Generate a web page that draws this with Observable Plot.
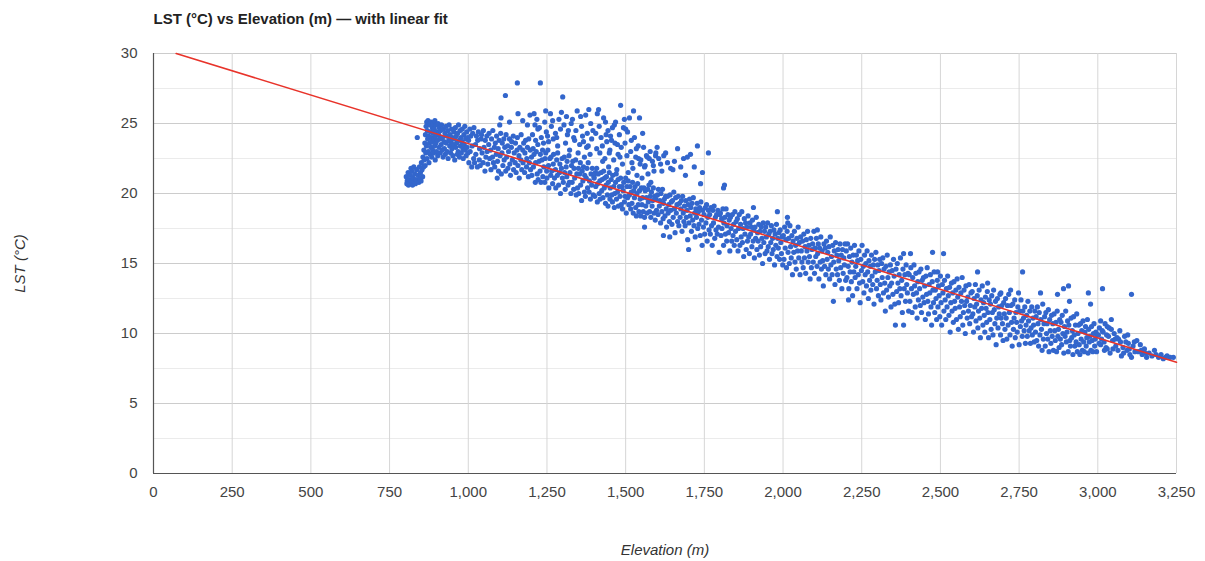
<!DOCTYPE html>
<html>
<head>
<meta charset="utf-8">
<script src="https://cdn.jsdelivr.net/npm/d3@7"></script>
<script src="https://cdn.jsdelivr.net/npm/@observablehq/plot@0.6"></script>
<style>
  html, body { margin: 0; padding: 0; background: #fff; }
  #chart { width: 1205px; height: 561px; }
</style>
</head>
<body>
<div id="chart"></div>
<script>
// ---- Text ----
const titleText = "LST (°C) vs Elevation (m) — with linear fit";
const xLabel = "Elevation (m)";
const yLabel = "LST (°C)";

// ---- Ticks ----
const xTicks = [0, 250, 500, 750, 1000, 1250, 1500, 1750, 2000, 2250, 2500, 2750, 3000, 3250];
const yTicks = [0, 5, 10, 15, 20, 25, 30];
const yMinorTicks = [2.5, 7.5, 12.5, 17.5, 22.5, 27.5];

// ---- Linear fit (endpoints) ----
const fitElev = [72, 3250];
const fitLst = [30, 7.95];

// ---- Scatter points [elevation m, LST °C], grouped by elevation band ----
const band800 = [[803,21.2],[805,20.7],[806,20.9],[809,21.5],[810,20.6],[811,21.0],[814,20.7],[816,21.3],[818,21.8],[819,20.9],[821,21.6],[823,20.6],[825,21.1],[827,21.9],[828,20.8],[830,21.4],[832,20.7],[834,21.0],[836,21.7],[838,24.0],[839,20.9],[841,21.3],[843,20.8],[845,21.9],[846,21.1],[848,21.5],[850,20.9],[851,22.2],[853,21.7],[855,21.2],[856,22.6],[858,21.9],[859,23.1],[860,22.4],[862,23.6],[863,22.0],[864,24.2],[865,22.9],[866,24.8],[867,23.4],[868,25.1],[869,22.5],[870,24.5],[871,23.9],[872,25.2],[873,23.0],[874,24.1],[875,22.2],[876,24.9],[877,23.6],[878,25.0],[879,22.8],[880,24.4],[881,23.3]];
const band900 = [[882,25.1],[883,24.0],[884,22.6],[885,23.7],[886,24.7],[887,23.1],[888,25.0],[889,24.3],[890,22.9],[891,23.9],[892,24.6],[893,23.4],[894,25.2],[895,22.4],[896,24.1],[897,23.6],[898,24.9],[899,23.0],[900,24.4],[902,23.8],[903,22.7],[904,25.0],[906,24.2],[907,23.3],[908,24.7],[910,23.9],[911,22.9],[912,24.5],[914,23.5],[915,24.9],[917,23.1],[918,24.0],[920,22.6],[921,24.6],[923,23.7],[924,23.2],[926,24.3],[927,22.8],[929,24.8],[930,23.6],[932,24.1],[933,23.0],[935,24.5],[936,22.5],[938,23.8],[939,24.9],[941,23.4],[942,24.2],[944,22.9],[945,23.7],[947,24.6],[948,23.2],[950,24.0],[951,22.7],[953,23.5],[954,24.4],[956,23.9],[957,22.4],[959,24.7],[960,23.3],[962,24.1],[963,23.6],[965,22.8],[966,24.3],[968,23.0],[969,24.9],[971,23.8],[972,22.6],[974,24.5],[975,23.4],[977,24.0],[978,22.9],[980,23.7],[981,24.6],[983,23.2],[984,22.5],[986,24.2],[987,23.5],[989,24.8],[990,23.1],[992,23.9],[993,22.7],[995,24.4],[996,23.3],[998,24.0],[999,22.9]];
const band1000 = [[1001,23.8],[1002,22.2],[1005,24.6],[1006,23.0],[1008,24.1],[1011,21.9],[1012,23.4],[1014,24.3],[1017,22.5],[1018,24.7],[1020,22.2],[1023,23.5],[1024,22.8],[1026,24.1],[1029,21.9],[1030,23.8],[1032,24.4],[1035,22.4],[1036,23.2],[1038,22.0],[1041,23.9],[1042,24.2],[1044,22.9],[1047,22.2],[1048,24.5],[1050,23.3],[1053,21.6],[1054,23.8],[1056,22.6],[1059,24.1],[1060,23.0],[1062,22.1],[1065,23.5],[1066,24.3],[1068,22.5],[1071,23.1],[1072,21.7],[1074,23.9],[1077,22.6],[1078,24.5],[1080,22.2],[1083,23.3],[1084,21.9],[1086,23.6],[1089,22.8],[1090,24.1],[1092,21.1],[1093,22.3],[1095,23.2],[1096,21.6],[1098,23.8],[1100,24.9],[1101,22.7],[1103,24.3],[1105,21.4],[1107,22.9],[1108,23.6],[1110,22.0],[1113,23.9],[1114,22.4],[1116,23.3],[1119,21.6],[1120,24.2],[1122,22.6],[1125,23.4],[1126,21.8],[1128,23.0],[1131,23.9],[1132,22.1],[1134,21.3],[1137,23.3],[1138,23.7],[1140,22.4],[1143,24.1],[1144,21.7],[1146,22.9],[1149,22.2],[1150,23.6],[1152,21.5],[1155,23.1],[1156,24.0],[1158,22.0],[1161,22.7],[1162,21.1],[1164,23.3],[1167,22.4],[1168,24.2],[1170,21.7],[1173,23.1],[1174,22.2],[1176,23.6],[1179,21.5],[1180,22.9],[1182,23.8],[1185,21.9],[1186,22.5],[1188,23.3],[1191,21.2],[1192,23.9],[1194,22.2],[1197,23.1],[1198,21.7],
  [1104,25.4],[1118,27.0],[1131,25.1],[1156,27.9],[1158,25.7],[1173,25.2],[1188,24.9],[1196,25.6]];
const band1200 = [[1201,22.6],[1202,21.3],[1206,23.2],[1207,21.9],[1209,22.8],[1213,20.8],[1214,22.2],[1216,23.0],[1219,21.4],[1221,23.5],[1222,21.0],[1225,22.3],[1228,21.6],[1229,22.8],[1231,20.8],[1234,22.4],[1236,23.1],[1237,21.2],[1240,21.9],[1243,20.8],[1244,22.5],[1246,22.9],[1249,21.6],[1250,21.1],[1253,23.1],[1255,22.0],[1256,20.4],[1259,22.5],[1262,21.3],[1263,22.6],[1265,21.6],[1268,20.7],[1270,22.1],[1271,22.8],[1274,21.1],[1277,21.7],[1278,20.4],[1281,22.4],[1283,21.3],[1284,22.9],[1287,20.6],[1290,21.5],[1291,22.1],[1293,20.0],[1296,21.8],[1298,22.5],[1299,21.1],[1302,20.8],[1305,22.6],[1306,21.5],[1308,20.3],[1311,21.9],[1313,21.2],[1314,22.3],[1317,20.6],[1320,22.7],[1321,20.8],[1323,21.5],[1326,20.0],[1328,22.0],[1330,20.8],[1332,22.3],[1335,20.3],[1336,21.8],[1338,21.1],[1341,22.4],[1343,19.9],[1345,21.4],[1347,20.4],[1350,21.8],[1351,20.0],[1354,21.4],[1356,22.2],[1357,20.6],[1360,19.5],[1362,21.6],[1364,20.9],[1366,21.9],[1369,20.1],[1370,21.3],[1372,19.8],[1375,21.1],[1377,21.8],[1379,20.4],[1381,22.2],[1384,20.1],[1385,20.9],[1388,19.6],[1390,21.4],[1392,20.6],[1394,21.8],[1397,19.9],[1399,21.2],
  [1204,24.2],[1209,25.7],[1214,23.8],[1221,24.6],[1229,27.9],[1232,24.0],[1239,23.6],[1243,25.1],[1248,24.4],[1255,23.7],[1261,25.7],[1264,24.8],[1270,23.9],[1277,24.3],[1284,23.4],[1288,25.3],[1293,24.6],[1300,26.9],[1304,24.9],[1309,23.6],[1315,24.2],[1322,23.1],[1327,25.0],[1331,25.3],[1338,23.8],[1342,24.5],[1349,22.9],[1354,23.5],[1357,25.5],[1363,24.1],[1369,22.6],[1373,25.6],[1376,23.3],[1378,24.3],[1383,26.0],[1387,22.8],[1392,23.9],[1396,24.5],
  [1212,24.9],[1218,25.3],[1226,24.7],[1246,25.9],[1252,24.1],[1268,25.2],[1281,24.0],[1296,25.8],[1312,25.5],[1318,24.5],[1335,24.0],[1346,25.9],[1360,24.8],[1366,23.7],[1381,23.4],[1389,25.0]];
const band1400 = [[1400,21.1],[1402,19.8],[1404,21.5],[1405,20.5],[1408,21.8],[1410,19.4],[1411,20.7],[1413,21.4],[1416,20.0],[1418,20.9],[1419,19.6],[1422,21.5],[1424,20.2],[1425,21.0],[1428,19.7],[1430,21.6],[1432,20.4],[1433,21.1],[1436,19.3],[1438,20.6],[1439,21.2],[1442,19.9],[1444,19.1],[1445,20.8],[1448,21.5],[1450,19.6],[1451,20.4],[1454,21.0],[1456,19.9],[1458,19.4],[1459,21.3],[1462,20.5],[1464,19.0],[1465,20.0],[1468,20.8],[1470,21.4],[1471,19.6],[1474,20.1],[1476,21.0],[1477,19.1],[1480,20.5],[1482,19.8],[1484,21.1],[1486,19.2],[1488,20.5],[1490,18.9],[1492,20.2],[1494,20.8],[1496,19.4],[1498,19.8],[1500,21.1],[1502,18.6],[1504,20.5],[1506,19.7],[1508,20.9],[1510,19.2],[1512,19.9],[1514,20.5],[1516,18.9],[1518,20.1],[1520,19.3],[1522,20.8],[1524,18.6],[1526,20.2],[1528,19.7],[1530,20.5],[1532,19.0],[1534,18.4],[1536,20.0],[1538,20.7],[1540,19.2],[1542,18.7],[1544,20.2],[1546,19.6],[1548,18.4],[1550,20.4],[1552,19.2],[1554,19.7],[1556,18.7],[1558,20.4],[1560,18.3],[1562,20.2],[1564,19.1],[1566,19.7],[1568,18.6],[1570,20.3],[1572,19.4],[1574,20.6],[1576,18.7],[1578,19.8],[1580,18.3],[1582,20.1],[1584,19.1],[1586,19.5],[1588,20.4],[1590,18.6],[1592,19.8],[1594,18.1],[1596,19.6],[1598,18.8],
  [1405,24.3],[1410,25.7],[1414,26.0],[1418,22.9],[1422,24.0],[1426,23.4],[1430,25.4],[1434,22.5],[1436,25.1],[1440,23.7],[1444,24.5],[1446,21.9],[1450,23.1],[1452,24.1],[1458,24.7],[1462,22.4],[1466,23.6],[1468,25.1],[1472,21.7],[1476,22.8],[1480,24.2],[1484,26.3],[1486,23.3],[1490,22.1],[1493,24.7],[1496,25.3],[1500,24.6],[1504,22.7],[1508,21.5],[1512,25.4],[1516,23.0],[1520,22.2],[1525,25.9],[1528,24.0],[1532,22.6],[1536,21.3],[1540,23.4],[1541,22.5],[1544,25.4],[1548,22.4],[1552,21.1],[1557,23.3],[1562,22.0],[1566,22.7],[1569,22.6],[1571,21.4],[1575,22.5],[1580,20.8],[1585,22.3],[1590,21.6],[1595,22.7],[1596,22.9],
  [1408,23.2],[1416,24.8],[1427,22.3],[1438,24.2],[1448,22.9],[1455,23.8],[1464,24.9],[1474,23.5],[1482,22.6],[1498,23.6],[1506,24.4],[1518,23.8],[1523,21.8],[1534,23.2],[1546,22.1],[1554,24.3],[1560,21.9],[1578,23.0],[1588,22.0],[1560,17.6]];
const band1600 = [[1601,19.9],[1603,18.5],[1604,20.3],[1607,19.1],[1609,19.5],[1611,17.9],[1612,20.0],[1615,18.7],[1617,20.3],[1619,18.2],[1620,19.3],[1623,19.6],[1625,18.4],[1627,19.8],[1629,18.9],[1630,17.6],[1633,19.8],[1635,18.6],[1637,19.2],[1639,18.0],[1641,19.9],[1643,18.8],[1645,19.4],[1647,17.8],[1649,19.5],[1651,18.3],[1653,20.1],[1655,18.9],[1657,17.2],[1659,19.7],[1661,18.6],[1663,19.2],[1665,18.0],[1667,19.8],[1669,17.7],[1671,19.3],[1673,18.3],[1675,18.9],[1677,19.5],[1679,17.3],[1681,19.8],[1683,18.6],[1685,18.0],[1687,19.1],[1689,17.7],[1691,19.5],[1693,18.3],[1695,18.8],[1697,16.7],[1699,19.2],[1701,17.9],[1703,19.6],[1705,18.4],[1707,19.0],[1709,17.3],[1711,19.3],[1713,18.1],[1715,19.7],[1717,17.7],[1719,18.6],[1721,16.9],[1723,18.9],[1725,18.3],[1727,19.3],[1729,17.5],[1731,18.7],[1733,17.8],[1735,19.0],[1737,17.0],[1739,19.4],[1741,18.1],[1743,16.3],[1745,18.8],[1747,17.6],[1749,18.5],[1751,17.1],[1753,19.0],[1755,17.9],[1757,19.2],[1759,16.6],[1761,18.3],[1763,18.8],[1765,17.4],[1767,18.5],[1769,17.1],[1771,19.0],[1773,17.7],[1775,16.3],[1777,18.8],[1779,17.9],[1781,19.1],[1783,16.8],[1785,18.3],[1787,17.4],[1789,18.5],[1791,17.1],[1793,18.8],[1795,17.6],[1797,15.8],[1799,18.5],
  [1605,22.5],[1611,22.1],[1621,22.7],[1633,22.2],[1643,21.8],[1665,23.2],[1684,22.5],[1696,22.6],[1706,22.8],[1728,23.4],[1763,22.9],[1744,21.5],[1738,20.7],[1811,20.4],[1814,20.6],
  [1600,23.3],[1615,21.6],[1627,22.9],[1650,21.7],[1655,22.3],[1675,21.9],[1690,21.3],[1718,21.9],[1620,17.0],[1640,16.9],[1700,16.0]];
const band1800 = [[1801,18.6],[1803,17.0],[1805,18.2],[1806,17.5],[1809,18.9],[1811,16.3],[1812,17.9],[1815,18.3],[1817,17.1],[1819,18.9],[1821,16.6],[1822,17.7],[1825,18.5],[1827,17.2],[1829,18.1],[1831,15.9],[1833,18.3],[1835,17.5],[1837,16.6],[1839,18.5],[1841,17.0],[1843,17.8],[1845,16.3],[1847,18.7],[1849,17.3],[1851,18.0],[1853,16.7],[1855,18.2],[1857,15.9],[1859,17.5],[1861,18.5],[1863,16.3],[1865,17.8],[1867,16.9],[1869,18.7],[1871,16.5],[1873,17.5],[1875,15.5],[1877,18.2],[1879,17.1],[1881,17.9],[1883,16.0],[1885,17.6],[1887,16.6],[1889,18.4],[1891,16.9],[1893,15.7],[1895,17.9],[1897,17.1],[1899,17.6],[1901,16.2],[1903,18.1],[1905,16.6],[1906,19.0],[1907,17.4],[1909,15.4],[1911,17.6],[1913,16.8],[1915,18.3],[1917,16.0],[1919,17.2],[1921,16.6],[1923,17.8],[1925,15.6],[1927,17.3],[1929,16.2],[1931,17.6],[1933,16.8],[1935,15.0],[1937,17.9],[1939,16.5],[1941,17.3],[1943,15.7],[1945,17.6],[1947,16.9],[1949,15.9],[1951,17.9],[1953,16.2],[1955,17.1],[1957,15.3],[1959,17.3],[1961,16.5],[1963,17.7],[1965,15.7],[1967,16.8],[1969,16.0],[1971,17.4],[1973,14.9],[1975,17.1],[1977,16.3],[1979,17.8],[1981,15.5],[1982,18.7],[1983,16.8],[1985,16.1],[1987,17.2],[1989,15.3],[1991,17.4],[1993,16.5],[1995,15.7],[1997,16.9],[1999,14.9]];
const band2000 = [[2001,17.0],[2003,15.3],[2005,17.6],[2007,16.1],[2009,16.7],[2011,14.7],[2013,17.3],[2014,18.3],[2015,17.9],[2016,15.8],[2018,16.8],[2020,15.0],[2022,17.7],[2024,16.2],[2026,15.4],[2028,17.0],[2030,14.2],[2032,16.6],[2034,15.8],[2036,17.3],[2038,15.1],[2040,16.3],[2042,14.6],[2044,16.8],[2046,15.9],[2048,17.6],[2050,15.4],[2052,16.5],[2054,14.2],[2056,16.9],[2058,15.9],[2060,15.1],[2062,16.6],[2064,14.7],[2066,17.1],[2068,15.4],[2070,16.2],[2072,14.3],[2074,16.7],[2076,15.9],[2078,17.3],[2080,15.1],[2082,16.3],[2084,15.5],[2086,13.9],[2088,16.8],[2090,14.7],[2092,16.0],[2094,16.4],[2096,15.1],[2098,17.3],[2100,14.3],[2102,16.1],[2104,15.5],[2106,16.8],[2108,14.8],[2109,17.4],[2110,15.7],[2112,16.4],[2114,13.9],[2116,16.1],[2118,15.1],[2120,16.9],[2122,14.6],[2124,15.9],[2126,15.2],[2128,13.4],[2130,16.4],[2132,14.8],[2134,16.1],[2136,14.2],[2138,16.6],[2140,15.3],[2142,15.8],[2144,14.6],[2146,16.2],[2148,13.9],[2150,16.9],[2152,14.9],[2154,15.5],[2156,14.2],[2158,16.3],[2160,12.3],[2161,15.1],[2163,15.9],[2165,13.5],[2167,16.5],[2169,14.6],[2171,15.6],[2173,14.2],[2175,16.0],[2177,15.2],[2179,13.8],[2181,16.4],[2183,14.7],[2185,15.6],[2187,13.2],[2189,16.0],[2191,14.3],[2193,15.4],[2195,14.9],[2197,16.4],[2199,13.8],[2208,12.4]];
const band2200 = [[2201,15.9],[2203,14.0],[2205,16.4],[2207,14.8],[2209,13.2],[2211,15.5],[2213,14.4],[2215,16.1],[2217,13.7],[2219,15.1],[2221,12.7],[2223,15.6],[2225,14.4],[2227,16.3],[2229,14.0],[2231,14.8],[2233,15.6],[2235,13.2],[2237,15.2],[2239,14.2],[2241,15.9],[2243,13.6],[2245,12.2],[2247,15.3],[2249,14.5],[2251,16.3],[2253,13.7],[2255,14.8],[2257,12.9],[2259,15.6],[2261,14.2],[2263,15.0],[2265,13.4],[2267,15.9],[2269,14.4],[2271,12.5],[2273,15.2],[2275,13.8],[2277,14.8],[2279,13.1],[2281,15.6],[2283,14.1],[2285,13.5],[2287,14.9],[2289,12.1],[2291,15.3],[2293,14.4],[2295,15.8],[2297,13.2],[2299,13.8],[2301,14.9],[2303,12.7],[2305,14.5],[2307,15.3],[2309,13.5],[2311,12.4],[2313,15.0],[2315,14.0],[2317,15.4],[2319,12.9],[2321,14.6],[2323,13.6],[2325,11.6],[2327,14.8],[2329,13.1],[2331,15.6],[2333,14.0],[2335,12.6],[2337,14.4],[2339,13.4],[2341,14.9],[2343,11.9],[2345,13.6],[2347,14.5],[2349,12.8],[2351,15.3],[2353,14.1],[2355,12.1],[2357,10.6],[2359,14.6],[2361,13.0],[2363,15.0],[2365,13.6],[2367,12.2],[2369,14.2],[2371,13.2],[2373,15.4],[2375,12.7],[2377,13.8],[2379,11.5],[2381,14.6],[2383,10.6],[2383,15.7],[2385,13.2],[2387,14.2],[2389,12.3],[2391,14.9],[2393,13.5],[2395,12.9],[2397,14.3],[2399,11.6]];
const band2400 = [[2401,14.2],[2403,12.3],[2405,15.7],[2406,14.7],[2408,13.2],[2410,11.5],[2412,14.0],[2414,12.8],[2416,14.9],[2418,13.4],[2420,11.9],[2422,14.3],[2424,12.9],[2426,11.1],[2428,13.7],[2430,12.4],[2432,14.4],[2434,13.2],[2436,12.0],[2438,14.6],[2440,11.5],[2442,13.8],[2444,12.6],[2446,14.0],[2448,12.2],[2450,13.4],[2452,11.0],[2454,14.1],[2456,12.8],[2458,14.7],[2460,12.3],[2462,11.4],[2464,13.5],[2466,12.9],[2468,14.2],[2470,11.9],[2472,10.6],[2474,13.7],[2475,15.8],[2476,13.1],[2478,12.2],[2480,14.4],[2482,11.5],[2484,13.1],[2486,12.5],[2488,11.0],[2490,13.8],[2491,14.4],[2492,11.9],[2494,13.4],[2496,12.7],[2498,11.2],[2500,14.1],[2502,12.2],[2504,10.6],[2506,13.5],[2508,12.9],[2510,15.7],[2511,11.6],[2513,13.8],[2515,12.4],[2517,11.0],[2519,13.2],[2521,11.9],[2523,14.1],[2525,12.7],[2527,11.3],[2529,13.3],[2531,10.1],[2533,12.2],[2535,13.6],[2537,11.6],[2539,12.9],[2541,10.8],[2543,13.7],[2545,12.3],[2547,11.8],[2549,13.1],[2551,11.0],[2553,13.9],[2555,12.6],[2557,10.3],[2559,13.3],[2561,11.9],[2563,11.2],[2565,12.9],[2567,12.3],[2569,14.0],[2571,10.6],[2573,11.5],[2575,13.1],[2577,12.0],[2579,10.0],[2581,13.4],[2583,12.3],[2585,11.1],[2587,12.6],[2589,11.6],[2591,13.5],[2593,10.7],[2595,12.0],[2597,12.9],[2599,11.2]];
const band2600 = [[2601,13.0],[2603,11.4],[2605,10.1],[2607,12.5],[2609,11.9],[2611,13.5],[2613,10.9],[2615,12.1],[2617,12.7],[2618,14.4],[2619,10.4],[2621,11.6],[2623,13.1],[2625,11.1],[2627,9.7],[2629,12.4],[2631,11.8],[2633,13.4],[2635,10.6],[2637,12.2],[2639,11.3],[2641,10.1],[2643,12.6],[2645,11.8],[2647,10.8],[2649,13.0],[2650,13.6],[2651,11.5],[2653,9.7],[2655,12.4],[2657,11.0],[2659,12.1],[2661,10.3],[2663,12.7],[2665,11.5],[2667,9.9],[2669,13.1],[2671,11.7],[2673,10.7],[2675,12.3],[2677,9.2],[2679,11.1],[2681,12.5],[2683,10.4],[2685,11.9],[2687,11.4],[2689,12.8],[2691,9.9],[2692,12.9],[2693,11.1],[2695,12.0],[2697,10.7],[2699,9.5],[2701,12.2],[2703,11.4],[2705,10.3],[2707,12.5],[2709,11.1],[2711,9.6],[2713,12.0],[2715,10.6],[2717,12.8],[2719,11.5],[2721,9.9],[2723,13.1],[2724,12.0],[2726,10.8],[2728,9.1],[2730,12.1],[2732,10.3],[2734,11.1],[2736,12.4],[2738,9.7],[2740,11.5],[2742,10.8],[2744,10.1],[2746,11.9],[2748,12.9],[2750,9.2],[2752,11.6],[2754,10.5],[2756,12.4],[2758,10.9],[2760,9.8],[2761,14.4],[2762,11.6],[2764,11.1],[2766,10.2],[2768,11.9],[2770,9.3],[2772,10.6],[2774,11.3],[2776,9.8],[2778,12.3],[2780,10.9],[2782,10.2],[2784,11.6],[2786,9.3],[2788,10.4],[2790,11.9],[2792,9.9],[2794,11.1],[2796,10.6],[2798,9.4],[2800,11.6]];
const band2800 = [[2802,10.1],[2804,11.2],[2806,9.5],[2808,11.9],[2810,10.7],[2812,9.1],[2814,11.5],[2816,9.9],[2818,12.9],[2819,11.0],[2821,10.3],[2823,8.8],[2825,12.1],[2827,9.6],[2829,10.7],[2831,11.2],[2833,9.1],[2835,11.5],[2837,10.0],[2839,10.7],[2841,9.6],[2843,11.7],[2845,8.7],[2847,11.0],[2849,10.2],[2851,9.3],[2853,11.3],[2855,9.8],[2857,10.7],[2859,8.8],[2861,11.4],[2863,10.2],[2865,9.5],[2867,10.8],[2869,8.7],[2871,11.6],[2872,12.8],[2873,9.8],[2875,10.3],[2877,9.0],[2879,11.0],[2881,9.6],[2883,10.8],[2885,9.2],[2887,11.3],[2889,10.0],[2891,13.2],[2892,8.6],[2894,10.5],[2896,9.8],[2898,11.6],[2900,9.4],[2902,10.1],[2904,10.9],[2906,8.7],[2907,13.4],[2908,10.6],[2910,12.3],[2911,9.5],[2913,9.1],[2915,11.1],[2917,9.7],[2919,10.2],[2921,8.5],[2923,11.2],[2925,9.9],[2927,9.1],[2929,10.6],[2931,9.4],[2933,11.4],[2935,8.7],[2937,10.0],[2939,10.6],[2941,9.2],[2943,8.5],[2945,10.7],[2947,9.6],[2949,10.2],[2951,8.8],[2953,10.9],[2955,9.4],[2957,8.7],[2959,10.1],[2961,10.5],[2963,9.1],[2965,9.7],[2967,11.0],[2969,8.6],[2970,12.9],[2971,10.3],[2973,9.4],[2975,9.8],[2977,12.1],[2978,8.8],[2980,10.5],[2982,9.5],[2984,8.7],[2986,10.0],[2988,10.7],[2990,9.1],[2992,9.6],[2994,10.1],[2996,8.7],[2998,9.9]];
const band3000 = [[3002,9.9],[3004,9.3],[3005,10.4],[3009,10.9],[3009,9.2],[3012,9.6],[3014,10.2],[3015,13.2],[3017,10.1],[3020,9.4],[3021,8.8],[3023,10.7],[3026,9.0],[3028,9.9],[3030,10.5],[3030,8.9],[3034,9.8],[3036,10.4],[3039,8.6],[3043,11.0],[3043,10.3],[3047,9.5],[3048,8.9],[3052,10.0],[3055,9.6],[3057,9.1],[3061,9.7],[3064,8.8],[3066,9.6],[3070,10.2],[3072,9.4],[3075,8.4],[3080,9.0],[3082,8.6],[3085,9.8],[3089,9.4],[3093,8.8],[3095,9.9],[3097,9.3],[3100,8.9],[3102,8.5],[3107,8.3],[3107,12.8],[3112,9.1],[3116,9.4],[3118,8.7],[3124,9.5],[3129,8.7],[3135,9.2],[3138,8.8],[3141,8.5],[3148,8.9],[3150,8.6],[3155,8.3],[3163,8.6],[3172,8.4],[3180,8.8],[3185,8.5],[3193,8.3],[3201,8.5],[3208,8.2],[3215,8.3],[3220,8.4],[3230,8.3],[3240,8.3]];

const points = [].concat(band800, band900, band1000, band1200, band1400, band1600,
  band1800, band2000, band2200, band2400, band2600, band2800, band3000)
  .map(([elev, lst]) => ({elev, lst}));
const fit = fitElev.map((e, i) => ({elev: e, lst: fitLst[i]}));

const FONT = "Arial, 'Liberation Sans', Helvetica, sans-serif";

const chart = Plot.plot({
  width: 1205,
  height: 561,
  marginLeft: 153,
  marginRight: 29,
  marginTop: 53,
  marginBottom: 88,
  style: {fontFamily: FONT, fontSize: "15px", background: "#fff", color: "#444", overflow: "visible"},
  x: {domain: [0, 3250]},
  y: {domain: [0, 30]},
  marks: [
    Plot.gridY(yMinorTicks, {stroke: "#ebebeb", strokeOpacity: 1}),
    Plot.gridY(yTicks, {stroke: "#cccccc", strokeOpacity: 1}),
    Plot.gridX(xTicks, {stroke: "#d6d6d6", strokeOpacity: 1}),
    Plot.ruleY([0], {stroke: "#555", strokeWidth: 1.2}),
    Plot.ruleX([0], {y1: 0, y2: 30, stroke: "#555", strokeWidth: 1.2}),
    Plot.dot(points, {x: "elev", y: "lst", r: 2.6, fill: "#3366cc", stroke: "none"}),
    Plot.line(fit, {x: "elev", y: "lst", stroke: "#e8332a", strokeWidth: 1.6}),
    Plot.axisX(xTicks, {tickFormat: d3.format(","), tickSize: 0, tickPadding: 13, label: null, fill: "#444", fontSize: 15}),
    Plot.axisY(yTicks, {tickSize: 0, tickPadding: 16, label: null, fill: "#444", fontSize: 15}),
    Plot.text([titleText], {text: d => d, frameAnchor: "top-left", textAnchor: "start", lineAnchor: "middle", dy: -34, fontWeight: "bold", fontSize: 15, fill: "#222"}),
    Plot.text([xLabel], {text: d => d, frameAnchor: "bottom", textAnchor: "middle", lineAnchor: "middle", dy: 77, fontStyle: "italic", fontSize: 15, fill: "#333"}),
    Plot.text([yLabel], {text: d => d, frameAnchor: "left", textAnchor: "middle", lineAnchor: "middle", dx: -133, rotate: -90, fontStyle: "italic", fontSize: 15, fill: "#333"})
  ]
});
document.getElementById("chart").appendChild(chart);
</script>
</body>
</html>
